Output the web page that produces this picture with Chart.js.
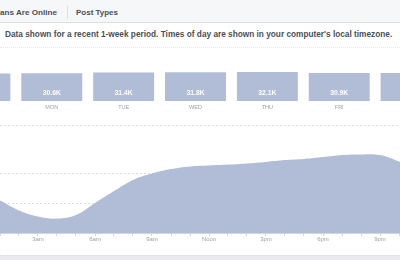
<!DOCTYPE html>
<html><head><meta charset="utf-8">
<script src="https://cdn.jsdelivr.net/npm/chart.js@4/dist/chart.umd.min.js"></script>
<style>
html,body{margin:0;padding:0;}
body{width:400px;height:260px;overflow:hidden;position:relative;background:#fff;font-family:'Liberation Sans',Arial,sans-serif;}
.abs{position:absolute;white-space:nowrap;}
</style></head>
<body>
<div class="abs" style="left:0;top:0;width:400px;height:22px;background:#f6f7f9;border-bottom:1px solid #dddfe2;"></div>
<div class="abs" id="tab1" style="right:343px;top:6px;line-height:13px;font-weight:bold;font-size:7.7px;color:#4b4f56;">When Your Fans Are Online</div>
<div class="abs" style="left:67px;top:6px;width:1px;height:13px;background:#dddfe2;"></div>
<div class="abs" id="tab2" data-fit="42" style="left:76px;top:6px;line-height:13px;font-weight:bold;font-size:7.7px;color:#4b4f56;">Post Types</div>
<div class="abs" id="desc" data-fit="388" style="left:5px;top:28px;line-height:13px;font-weight:bold;font-size:7.5px;color:#4b4f56;">Data shown for a recent 1-week period. Times of day are shown in your computer's local timezone.</div>
<div class="abs" style="left:0;top:47px;width:400px;border-top:1px dotted #e6e8eb;"></div>
<div class="abs" style="left:-56px;top:56px;width:503px;height:56px;"><canvas id="bars"></canvas></div>
<div class="abs" style="left:0;top:112px;width:400px;height:143px;"><canvas id="area"></canvas></div>
<div class="abs" style="left:0;top:255px;width:400px;height:5px;background:#e9ebee;border-top:1px dotted #dcdfe4;"></div>
<script>
// ---- data ----
const days = ['SUN','MON','TUE','WED','THU','FRI','SAT'];
const dailyFans = [30.5, 30.6, 31.4, 31.8, 32.1, 30.9, 31.0]; // thousands
const hours = [0,1,2,3,4,5,6,7,8,9,10,11,12,13,14,15,16,17,18,19,20,21,22,23];
const onlineFans = [13.7,10.8,7.5,5.5,4.8,6.0,10.0,14.0,17.7,19.8,21.3,22.2,22.5,22.8,23.2,23.7,24.3,24.7,25.3,26.0,26.2,26.0,23.8,21.0];
const tickHours = [3,6,9,12,15,18,21];
const tickLabels = ['3am','6am','9am','Noon','3pm','6pm','9pm'];
const gridValues = [0,10,20,36];

// fit text widths
document.querySelectorAll('[data-fit]').forEach(el=>{
  const target = +el.dataset.fit;
  const fs = parseFloat(el.style.fontSize);
  const w = el.getBoundingClientRect().width;
  el.style.fontSize = (fs*target/w)+'px';
});
(function(){
  // visible tail "ans Are Online" should span ~57px
  const t1 = document.getElementById('tab1');
  const m = document.createElement('span');
  m.className='abs';
  m.style.cssText = 'visibility:hidden;font-weight:bold;font-size:10px;';
  m.textContent = 'ans Are Online';
  document.body.appendChild(m);
  const w = m.getBoundingClientRect().width;
  t1.style.fontSize = (10*57/w)+'px';
  m.remove();
})();

const fill = 'rgb(177,189,215)';

const barLabels = {
  id:'barLabels',
  afterDatasetsDraw(chart){
    const ctx = chart.ctx;
    const meta = chart.getDatasetMeta(0);
    ctx.save();
    ctx.textAlign='center';
    ctx.textBaseline='middle';
    meta.data.forEach((bar,i)=>{
      ctx.fillStyle='#ffffff';
      ctx.font='bold 6.8px "Liberation Sans", Arial, sans-serif';
      ctx.fillText(dailyFans[i].toFixed(1)+'K', bar.x, bar.base-7.5);
      ctx.fillStyle='#9da1a8';
      ctx.font='5.5px "Liberation Sans", Arial, sans-serif';
      ctx.fillText(days[i], bar.x, bar.base+6.5);
    });
    ctx.restore();
  }
};

new Chart(document.getElementById('bars'), {
  type:'bar',
  data:{labels:days, datasets:[{data:dailyFans, backgroundColor:fill, borderWidth:0, barPercentage:0.848, categoryPercentage:1}]},
  options:{
    responsive:true, maintainAspectRatio:false, animation:false, devicePixelRatio:1,
    layout:{padding:{top:10,bottom:11,left:0,right:0}},
    plugins:{legend:{display:false}, tooltip:{enabled:false}},
    scales:{x:{display:false}, y:{display:false, min:0, max:38.7}}
  },
  plugins:[barLabels]
});

new Chart(document.getElementById('area'), {
  type:'line',
  data:{datasets:[{data:hours.map((h,i)=>({x:h,y:onlineFans[i]})), fill:'origin', backgroundColor:fill, borderColor:fill, borderWidth:0, pointRadius:0, tension:0.4}]},
  options:{
    responsive:true, maintainAspectRatio:false, animation:false, devicePixelRatio:1,
    layout:{padding:{top:13,bottom:0,left:0,right:0}},
    plugins:{legend:{display:false}, tooltip:{enabled:false}},
    scales:{
      x:{type:'linear', min:1, max:1+400/19,
        afterBuildTicks(s){ const t=[]; for(let h=1;h<=22;h++) t.push({value:h}); s.ticks=t; },
        afterFit(s){ s.height=22; },
        ticks:{autoSkip:false, maxRotation:0, padding:0, color:'#9da1a8',
          font:{family:'"Liberation Sans", Arial, sans-serif', size:6},
          callback(v){ const k=tickHours.indexOf(v); return k>=0?tickLabels[k]:''; }},
        grid:{drawOnChartArea:false, drawTicks:true, tickLength:3, color:'#d3d6dc'},
        border:{display:true, color:'#d3d6dc', dash:[2,2]}
      },
      y:{min:0, max:36,
        afterBuildTicks(s){ s.ticks=gridValues.map(v=>({value:v})); },
        afterFit(s){ s.width=0; },
        ticks:{display:false},
        grid:{color:'#dadde2', drawTicks:false, lineWidth:1},
        border:{display:false, dash:[2,2]}
      }
    }
  }
});
</script>
</body></html>
